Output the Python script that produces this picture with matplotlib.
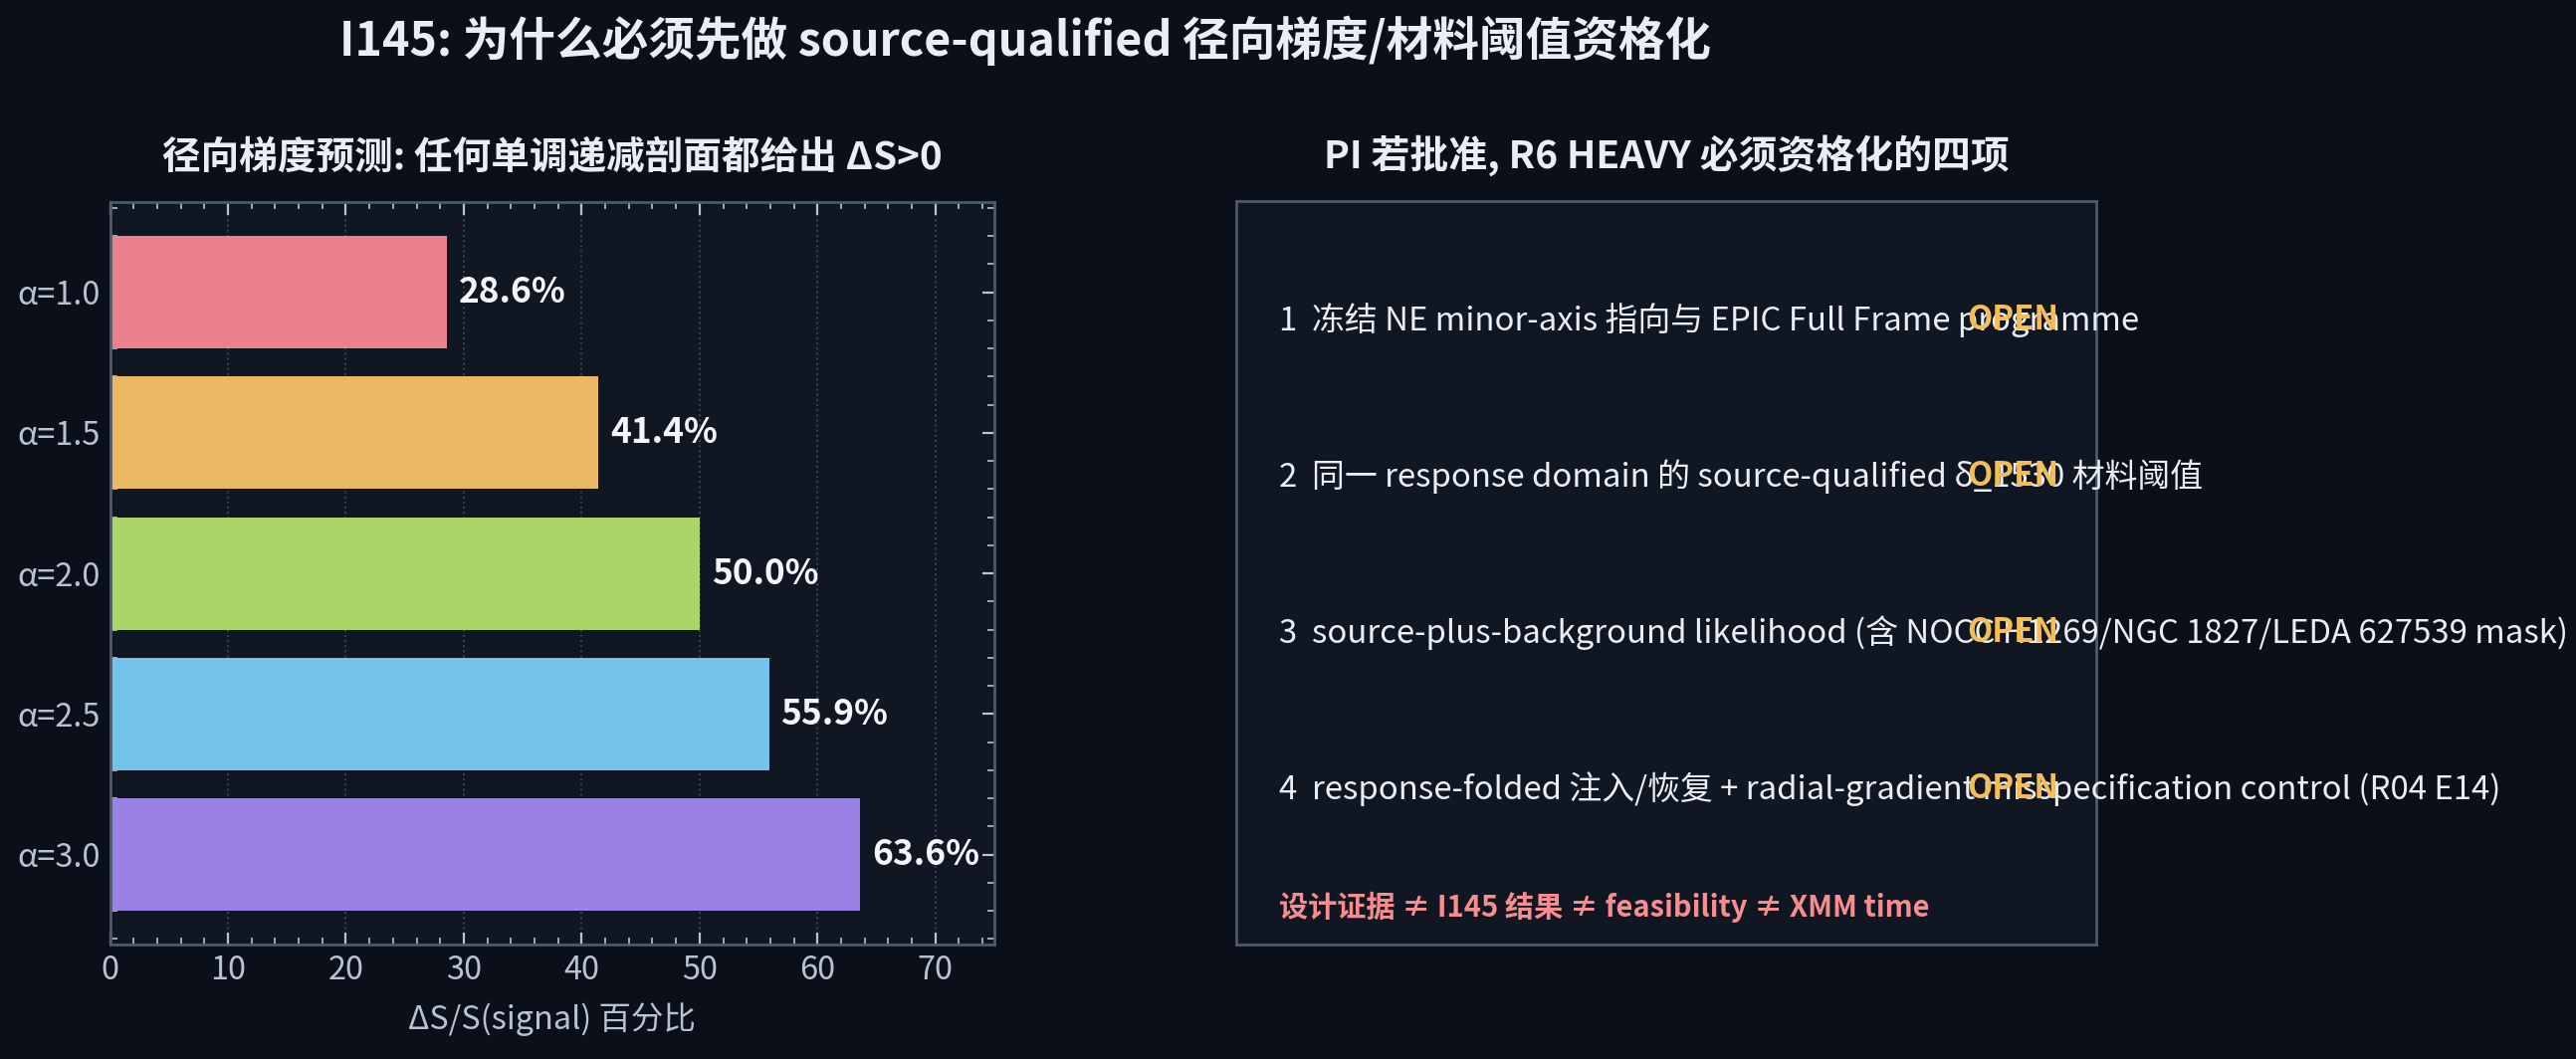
import numpy as np
import matplotlib
matplotlib.use("Agg")
import matplotlib.pyplot as plt

plt.rcParams['font.family'] = ['Noto Sans CJK SC', 'DejaVu Sans']
plt.rcParams['axes.unicode_minus'] = False

# data
alphas = ['α=1.0', 'α=1.5', 'α=2.0', 'α=2.5', 'α=3.0']
delta_pct = [28.6, 41.4, 50.0, 55.9, 63.6]
bar_colors = ['#eb818b', '#ebb864', '#abd667', '#74c3ea', '#9a81e6']

items = [
    '1  冻结 NE minor-axis 指向与 EPIC Full Frame programme',
    '2  同一 response domain 的 source-qualified δ_1530 材料阈值',
    '3  source-plus-background likelihood (含 NOCC H1269/NGC 1827/LEDA 627539 mask)',
    '4  response-folded 注入/恢复 + radial-gradient misspecification control (R04 E14)',
]
item_status = ['OPEN', 'OPEN', 'OPEN', 'OPEN']
footer = '设计证据 ≠ I145 结果 ≠ feasibility ≠ XMM time'

fig_bg = '#0a0f19'
ax_bg = '#111722'
spine_c = '#4c5a6a'
tick_c = '#b9c2cf'
text_c = '#e9edf4'

fig = plt.figure(figsize=(12.94, 5.32), dpi=200, facecolor=fig_bg)
fig.suptitle('I145: 为什么必须先做 source-qualified 径向梯度/材料阈值资格化',
             x=0.398, y=0.985, fontsize=16.8, fontweight='bold', color=text_c)

# left: bar chart
ax = fig.add_axes([0.0427, 0.108, 0.3433, 0.701])
ax.set_facecolor(ax_bg)
y = np.arange(len(alphas))
ax.barh(y, delta_pct, height=0.8, color=bar_colors)
ax.set_yticks(y)
ax.set_yticklabels(alphas)
ax.invert_yaxis()
ax.set_xlim(0, 75)
for yi, v in zip(y, delta_pct):
    ax.text(v + 1.0, yi, f'{v:.1f}%', va='center', ha='left',
            fontsize=12.7, fontweight='bold', color='#f3f5fa')
ax.minorticks_on()
ax.tick_params(which='both', direction='in', top=True, right=True,
               colors=tick_c, labelsize=11.7)
ax.tick_params(which='major', length=4.5, width=0.8)
ax.tick_params(which='minor', length=2.5, width=0.6)
ax.grid(axis='x', which='major', linestyle=':', color='#5a6474', alpha=0.6, linewidth=0.7)
ax.set_axisbelow(True)
for s in ax.spines.values():
    s.set_color(spine_c)
    s.set_linewidth(1.0)
ax.set_xlabel('ΔS/S(signal) 百分比', color=tick_c, fontsize=11.7, labelpad=6)
ax.set_title('径向梯度预测: 任何单调递减剖面都给出 ΔS>0', color=text_c,
             fontsize=13.9, fontweight='bold', pad=12)

# right: checklist box
ax2 = fig.add_axes([0.48, 0.108, 0.3338, 0.702])
ax2.set_facecolor(ax_bg)
ax2.set_xticks([])
ax2.set_yticks([])
ax2.set_xlim(0, 1)
ax2.set_ylim(0, 1)
for s in ax2.spines.values():
    s.set_color(spine_c)
    s.set_linewidth(1.0)
ax2.set_title('PI 若批准, R6 HEAVY 必须资格化的四项', color=text_c,
              fontsize=14, fontweight='bold', pad=12)
for i, (txt, st) in enumerate(zip(items, item_status)):
    yy = 0.84 - 0.21 * i
    ax2.text(0.05, yy, txt, ha='left', va='center', fontsize=11.85,
             color=text_c, clip_on=False)
    ax2.text(0.85, yy, st, ha='left', va='center', fontsize=11.85,
             fontweight='bold', color='#f5bd55', clip_on=False)
ax2.text(0.05, 0.05, footer, ha='left', va='center', fontsize=10.5,
         fontweight='bold', color='#f88d8f')

fig.savefig('out.png', facecolor=fig_bg)
